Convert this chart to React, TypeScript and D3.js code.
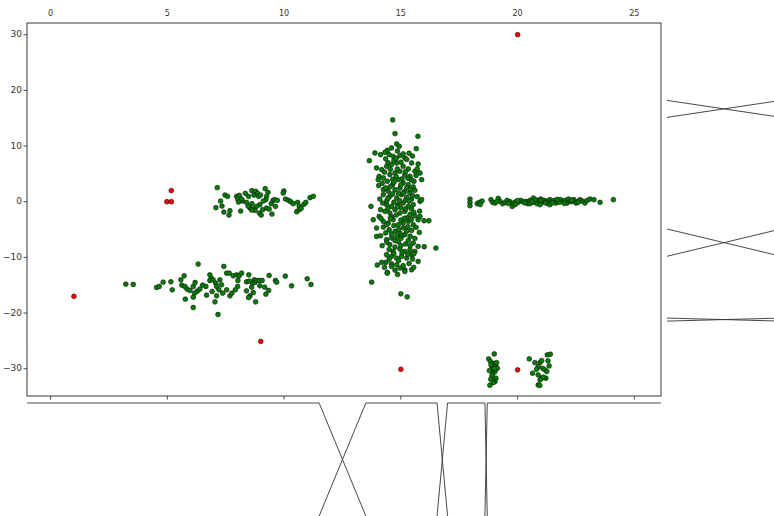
import React from "react";
import * as d3 from "d3";

const xTicks = [0, 5, 10, 15, 20, 25];
const yTicks = [30, 20, 10, 0, -10, -20, -30];

const clusterA: [number, number][] = [
  [7.14, 2.52], [7.47, 1.2], [7.58, 0.96], [7.28, 0.12], [7.34, -0.78], [7.08, -1.08], [7.42, -1.86], [7.64, -2.4],
  [7.68, -1.62], [7.97, 0.96], [8.08, 1.14], [8.01, 0.48], [8.05, -0.06], [8.22, 0.12], [8.34, 1.5], [8.18, 0.48],
  [8.39, -0.12], [8.48, 0.96], [8.62, 1.98], [8.71, 1.2], [8.79, 1.86], [8.87, 1.44], [8.91, 0.96], [8.99, 1.2],
  [9.19, 2.34], [9.31, 1.68], [9.25, 0.96], [9.22, 0.36], [9.11, 0.12], [8.96, -0.54], [8.82, -0.84], [8.68, -1.32],
  [8.54, -1.14], [8.62, -0.36], [8.75, -1.56], [8.94, -2.04], [9.02, -2.4], [9.08, -1.44], [9.25, -1.14], [9.36, -1.32],
  [9.45, -0.36], [9.53, 0.24], [9.59, 0.36], [9.71, 0.24], [9.63, -0.84], [9.48, -2.22], [9.99, 1.92], [9.96, 1.56],
  [10.06, 0.48], [10.19, 0.24], [10.28, 0.0], [10.39, -0.36], [10.58, -0.12], [10.65, -0.84], [10.54, -1.8], [10.65, -1.44],
  [10.73, -1.2], [10.85, -0.48], [10.93, -0.12], [11.11, 0.72], [11.25, 0.96], [8.14, -1.68], [8.46, -0.78], [8.61, -1.5],
];

const clusterB: [number, number][] = [
  [3.22, -14.81], [3.54, -14.87], [4.54, -15.41], [4.65, -15.23], [4.82, -14.45], [5.15, -14.39], [5.21, -15.83], [5.58, -14.03],
  [5.72, -13.31], [5.62, -14.99], [5.75, -15.23], [5.85, -15.71], [5.97, -15.95], [6.11, -15.23], [6.19, -14.51], [6.28, -16.07],
  [6.39, -15.71], [6.17, -16.43], [6.32, -11.21], [5.77, -17.51], [6.11, -17.15], [6.11, -19.0], [6.51, -14.99], [6.65, -15.23],
  [6.68, -16.79], [6.82, -13.13], [6.88, -13.73], [6.82, -14.15], [6.96, -14.03], [7.07, -14.63], [7.11, -15.23], [7.21, -15.83],
  [7.32, -14.93], [7.42, -11.63], [7.37, -16.43], [7.11, -16.91], [7.04, -17.99], [7.17, -20.26], [7.54, -12.83], [7.65, -12.83],
  [7.54, -15.83], [7.68, -16.91], [7.76, -16.43], [7.82, -13.31], [7.97, -13.13], [8.08, -13.31], [8.18, -12.83], [8.02, -14.15],
  [8.01, -15.23], [7.91, -15.83], [8.49, -13.13], [8.39, -14.39], [8.51, -14.27], [8.65, -14.63], [8.61, -15.35], [8.72, -14.03],
  [8.75, -14.51], [8.82, -14.15], [8.94, -14.15], [9.06, -14.15], [8.96, -15.11], [9.17, -15.35], [8.68, -16.31], [8.54, -16.91],
  [8.39, -16.01], [8.48, -17.21], [8.78, -17.99], [9.34, -15.95], [9.22, -16.61], [9.36, -13.25], [9.63, -14.15], [9.68, -14.45],
  [10.05, -13.37], [10.32, -15.11], [10.99, -13.85], [11.15, -14.87], [6.92, -16.13], [7.25, -14.03],
];

const clusterC: [number, number][] = [
  [14.65, 14.69], [14.75, 12.23], [15.73, 11.75], [14.82, 10.37], [15.66, 9.53], [14.93, 9.95], [14.6, 9.65], [14.42, 9.23],
  [13.89, 8.75], [14.13, 8.45], [13.65, 7.37], [14.32, 8.87], [14.5, 8.45], [14.67, 8.15], [14.96, 8.27], [15.17, 7.85],
  [15.46, 6.95], [15.74, 6.77], [13.96, 6.06], [14.18, 5.76], [14.39, 6.35], [14.6, 6.65], [14.82, 6.95], [15.1, 6.35],
  [15.32, 5.88], [15.6, 5.46], [15.82, 5.16], [15.89, 3.96], [14.07, 4.56], [14.25, 4.26], [14.53, 4.86], [14.75, 5.16],
  [14.96, 5.46], [15.17, 4.86], [15.39, 4.56], [15.56, 3.66], [14.03, 3.96], [14.42, 3.66], [14.65, 3.06], [14.89, 3.96],
  [15.1, 3.36], [15.32, 3.06], [15.53, 2.64], [14.25, 2.16], [14.46, 1.86], [14.75, 2.16], [14.96, 2.46], [15.17, 1.86],
  [15.39, 1.56], [15.6, 2.04], [14.25, 1.26], [14.53, 0.96], [14.82, 0.66], [15.03, 1.26], [15.25, 0.84], [15.46, 0.48],
  [15.82, 0.06], [15.89, 0.36], [14.1, 0.48], [14.22, -0.24], [14.39, -0.54], [14.6, -0.84], [14.89, -0.54], [15.1, -0.24],
  [15.32, -0.84], [15.53, -0.54], [13.72, -0.84], [14.13, -1.44], [14.32, -1.74], [14.53, -2.04], [14.75, -1.44], [14.96, -2.04],
  [15.17, -1.74], [15.39, -2.34], [15.6, -2.52], [15.82, -2.64], [15.74, -3.24], [15.99, -3.42], [16.2, -3.42], [13.82, -3.24],
  [14.07, -2.64], [14.25, -3.54], [14.46, -3.84], [14.67, -3.24], [14.89, -4.14], [15.1, -3.84], [15.32, -3.54], [15.53, -4.14],
  [13.96, -4.74], [14.25, -4.56], [14.5, -5.04], [14.75, -5.34], [14.96, -5.64], [15.17, -5.94], [15.46, -5.16], [15.79, -5.52],
  [13.96, -6.24], [14.13, -6.12], [14.39, -6.83], [14.6, -6.53], [14.82, -6.24], [15.03, -6.12], [15.32, -6.95], [15.53, -7.43],
  [15.74, -8.03], [16.0, -8.09], [16.5, -8.33], [14.53, -7.73], [14.75, -8.15], [14.96, -8.51], [15.17, -8.93], [15.39, -8.63],
  [15.6, -8.93], [14.39, -9.53], [14.6, -9.83], [14.82, -10.13], [15.03, -9.83], [15.25, -10.13], [15.46, -9.53], [15.56, -9.35],
  [14.36, -10.91], [14.6, -11.15], [14.82, -11.33], [14.96, -11.93], [15.17, -12.23], [15.46, -12.23], [15.74, -10.73], [13.99, -11.39],
  [14.42, -12.71], [14.6, -11.63], [14.86, -13.07], [15.17, -12.53], [13.75, -14.45], [15.0, -16.55], [15.27, -17.09], [14.42, -12.83],
  [14.18, -10.91], [14.67, -8.93], [14.7, 7.4], [15.0, 7.1], [15.25, 7.6], [14.45, 7.0], [15.5, 8.2], [14.3, 5.3],
  [14.85, 5.9], [15.05, 4.1], [15.45, 3.9], [14.55, 2.7], [15.25, 2.5], [14.9, 1.5], [15.5, 1.1], [14.4, 0.2],
  [14.7, -0.1], [15.2, 0.3], [15.0, -1.1], [15.45, -1.3], [14.6, -2.7], [15.25, -2.9], [14.35, -5.6], [15.1, -4.7],
  [15.4, -6.2], [14.9, -7.2], [15.2, -7.6], [14.5, -8.6], [15.05, -9.2], [15.35, -11.1], [14.75, -12.3], [15.6, -6.6],
  [14.2, -7.9], [15.8, -1.7], [14.05, 2.9], [15.7, 5.9], [14.95, 0.2], [15.15, -3.0], [14.65, 4.0], [15.35, 8.7],
  [14.85, 9.1], [15.55, -11.8],
  [14.8, 7.8], [15.1, 8.6], [14.55, 5.8], [15.2, 5.4], [14.8, 4.5], [15.3, 4.2], [14.7, 3.5], [15.0, 3.0],
  [14.35, 2.5], [15.4, 2.2], [14.65, 1.4], [15.1, 1.6], [14.45, 0.6], [15.35, 0.1], [14.85, -0.9], [15.2, -1.3],
  [14.45, -1.2], [15.55, -1.9], [14.8, -2.4], [15.0, -3.3], [14.55, -3.0], [15.45, -3.2], [14.7, -4.3], [15.3, -4.5],
  [14.4, -4.1], [14.9, -5.0], [15.25, -5.3], [14.6, -5.8], [15.0, -6.6], [14.75, -7.0], [15.4, -7.9], [14.4, -7.3],
  [15.0, -7.9], [14.7, -9.3], [15.3, -9.4], [14.9, -10.6], [15.5, -10.3], [14.5, -10.3], [15.1, -11.5], [14.3, -11.8],
  [15.65, -4.6], [14.15, -3.0], [15.7, 0.9], [14.2, 3.3], [15.65, 4.7], [14.35, 7.7],
];

const clusterD: [number, number][] = [
  [17.96, 0.48], [17.96, -0.12], [17.96, -0.72], [18.27, -0.36], [18.36, -0.12], [18.48, 0.12], [18.86, 0.36], [18.93, -0.12],
  [19.03, -0.24], [19.17, 0.6], [19.24, 0.06], [19.36, -0.36], [19.46, -0.12], [19.55, 0.24], [19.67, 0.0], [19.77, -0.84],
  [19.81, -0.24], [19.93, 0.0], [20.03, -0.12], [20.13, 0.24], [20.24, 0.0], [20.36, 0.06], [20.43, -0.36], [20.53, 0.24],
  [20.67, 0.66], [20.7, -0.12], [20.78, 0.36], [20.84, -0.36], [20.93, 0.12], [20.99, 0.48], [21.07, -0.12], [21.13, 0.24],
  [21.24, 0.12], [21.31, -0.36], [21.38, 0.36], [21.46, 0.0], [21.56, 0.24], [21.64, -0.24], [21.74, 0.12], [21.84, 0.36],
  [21.95, 0.0], [22.04, 0.24], [22.12, -0.24], [22.21, 0.12], [22.31, 0.0], [22.41, 0.36], [22.5, -0.24], [22.58, 0.0],
  [22.67, 0.36], [22.78, 0.12], [22.88, -0.24], [22.98, 0.24], [23.1, 0.48], [23.27, 0.36], [23.53, -0.12], [24.1, 0.36],
  [20.96, -0.54], [21.38, -0.54], [22.17, 0.48], [20.53, -0.36], [19.1, 0.0], [19.6, -0.3], [20.0, 0.2], [20.3, -0.2],
  [20.6, 0.0], [21.0, 0.3], [21.2, -0.2], [21.5, -0.2], [21.8, -0.1], [22.0, -0.3], [22.3, 0.3], [22.6, -0.1],
  [18.4, -0.5], [19.9, -0.5], [21.7, 0.4],
];

const clusterE: [number, number][] = [
  [19.0, -27.34], [18.76, -28.24], [18.84, -28.72], [18.93, -29.02], [19.03, -29.14], [18.89, -29.5], [19.07, -29.62], [19.13, -29.92],
  [18.96, -30.1], [18.79, -30.34], [19.03, -30.52], [18.93, -30.94], [19.07, -31.71], [19.03, -32.31], [18.96, -32.49], [18.81, -32.97],
  [18.86, -29.32], [19.1, -28.9], [18.9, -31.3], [19.0, -30.0], [18.85, -31.9],
];

const clusterF: [number, number][] = [
  [20.5, -28.24], [20.74, -28.9], [20.96, -28.9], [21.03, -28.54], [21.27, -27.52], [20.88, -29.62], [20.81, -30.1], [21.07, -29.92],
  [21.17, -30.22], [20.64, -30.82], [20.88, -31.12], [21.03, -31.71], [20.96, -32.01], [20.88, -32.91], [21.21, -31.71], [21.4, -27.4],
  [21.35, -29.5], [21.25, -30.5], [21.3, -28.6], [21.1, -31.5], [20.95, -33.0],
];

const outliers: [number, number][] = [
  [1.0, -17.0], [4.98, 0.0], [5.17, 0.0], [5.17, 2.0], [9.0, -25.1], [15.0, -30.1], [20.0, 30.0], [20.0, -30.2],
];

// marginal crossings: bottom (in x data units) and right (in y data units)
const bottomCrossings: [number, number][] = [[11.5, 13.5], [16.55, 17.0], [18.6, 18.7]];
const rightCrossings: [number, number][] = [[18.2, 15.15], [-4.9, -9.8], [-20.9, -21.45]];

const W = 774;
const H = 516;
const L = 27, R = 661, T = 23, B = 396;

export default function App() {
  const x = d3.scaleLinear().domain([-1.01, 26.14]).range([L, R]);
  const y = d3.scaleLinear().domain([-34.9, 32.1]).range([B, T]);
  const green = [...clusterA, ...clusterB, ...clusterC, ...clusterD, ...clusterE, ...clusterF];
  const lineCol = "#333";

  // bottom panel
  const bTop = 403, bBot = 516;
  const bx = bottomCrossings.map(([a, b]) => [x(a), x(b)]);
  let hPath = `M${L},${bTop}`;
  bx.forEach(([a, b]) => {
    hPath += `H${a}M${b},${bTop}`;
  });
  hPath += `H${R}`;

  const rL = 667, rR = 781;

  return (
    <svg
      width={W}
      height={H}
      style={{ position: "fixed", left: 0, top: 0, background: "#fff", overflow: "hidden" }}
      fontFamily="DejaVu Sans, sans-serif"
    >
      <rect x={0} y={0} width={W} height={H} fill="#fff" />
      {/* frame */}
      <rect x={L} y={T} width={R - L} height={B - T} fill="none" stroke="#222" strokeWidth={0.9} />
      {/* bottom ticks (no labels) */}
      {xTicks.map((t) => (
        <line key={"bt" + t} x1={x(t)} x2={x(t)} y1={B} y2={B + 3.5} stroke="#222" strokeWidth={0.8} />
      ))}
      {/* top labels */}
      {xTicks.map((t) => (
        <text key={"tl" + t} x={x(t)} y={13} fontSize={8} fill="#333" textAnchor="middle" dominantBaseline="middle">
          {t}
        </text>
      ))}
      {/* left ticks + labels */}
      {yTicks.map((t) => (
        <g key={"yt" + t}>
          <line x1={L - 3.5} x2={L} y1={y(t)} y2={y(t)} stroke="#222" strokeWidth={0.8} />
          <text x={L - 5} y={y(t)} fontSize={9} fill="#333" textAnchor="end" dominantBaseline="middle">
            {t < 0 ? "\u2212" + Math.abs(t) : t}
          </text>
        </g>
      ))}
      {/* points */}
      {green.map(([px, py], i) => (
        <circle key={"g" + i} cx={x(px)} cy={y(py)} r={2.4} fill="#007f00" stroke="#111" strokeWidth={0.6} />
      ))}
      {outliers.map(([px, py], i) => (
        <circle key={"r" + i} cx={x(px)} cy={y(py)} r={2.4} fill="#ff0000" stroke="#111" strokeWidth={0.6} />
      ))}
      {/* bottom marginal */}
      <path d={hPath} fill="none" stroke={lineCol} strokeWidth={0.9} />
      {bx.map(([a, b], i) => (
        <g key={"bc" + i}>
          <line x1={a} y1={bTop} x2={b} y2={bBot} stroke={lineCol} strokeWidth={0.9} />
          <line x1={b} y1={bTop} x2={a} y2={bBot} stroke={lineCol} strokeWidth={0.9} />
        </g>
      ))}
      {/* right marginal */}
      {rightCrossings.map(([a, b], i) => (
        <g key={"rc" + i}>
          <line x1={rL} y1={y(a)} x2={rR} y2={y(b)} stroke={lineCol} strokeWidth={0.9} />
          <line x1={rL} y1={y(b)} x2={rR} y2={y(a)} stroke={lineCol} strokeWidth={0.9} />
        </g>
      ))}
    </svg>
  );
}
